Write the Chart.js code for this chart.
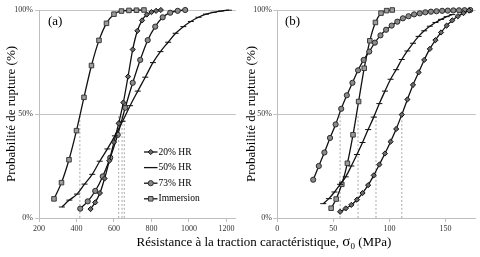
<!DOCTYPE html>
<html>
<head>
<meta charset="utf-8">
<script src="https://cdn.jsdelivr.net/npm/chart.js@4.4.1/dist/chart.umd.min.js"></script>
<style>
  html, body { margin:0; padding:0; background:#fff; }
  body { width:480px; height:257px; position:relative; overflow:hidden; }
  .panel { position:absolute; top:0; width:240px; height:257px; }
  #xt { position:absolute; left:24px; width:480px; top:234px; text-align:center;
        font-family:'Liberation Serif','Times New Roman',serif; font-size:13px; line-height:15px; color:#000; white-space:nowrap; }
  #xt .sig { font-size:15px; }
  #xt sub { font-size:9px; line-height:0; vertical-align:-3px; }
</style>
</head>
<body>
<div class="panel" style="left:0"><canvas id="ca"></canvas></div>
<div class="panel" style="left:240px"><canvas id="cb"></canvas></div>
<div id="xt">Résistance à la traction caractéristique, <span class="sig">σ</span><sub>0</sub> (MPa)</div>
<script>
// ---------- DATA : panel (a) ----------
const seriesLabels = ['20% HR', '50% HR', '73% HR', 'Immersion'];

const a20x = [475,500,525,550,575,600,625,650,675,700,725,750,775,800,825,850];
const a20y = [4.3,7.5,12,19,27.5,36.5,45.5,55.5,68,81,90,95,97.8,99,99.6,100];

const a50x = [322,362,403,443,484,524,565,605,646,686,727,767,808,848,889,929,970,1010,1051,1091,1132,1172,1213];
const a50y = [5.3,8.6,11.5,16.3,21,27.3,33.2,39.5,46.5,54,61,67.7,74.7,80,84.5,88.8,92,94.5,96.5,98,98.9,99.5,99.9];

const a73x = [420,460,500,540,580,620,660,700,740,780,820,860,900,940,980];
const a73y = [4.5,8,13,20,29,40,53,65,76,85.5,92,96.5,98.7,99.6,100];

const aImmx = [280,320,360,400,440,480,520,560,600,640,680,720,760];
const aImmy = [9.2,17,28,42,58,73.3,85.4,93.6,98,99.5,99.8,99.9,100];

const aMedians = [418, 625, 643, 655];
const aTicks = [200, 400, 600, 800, 1000, 1200];

// ---------- DATA : panel (b) ----------
const b20x = [56,61,66,71,76,81,86,91,96,101,106,111,116,121,126,131,136,141,146,151,156,161,166,171];
const b20y = [3,4.6,6.3,8.8,12,15.8,20.5,25.7,31,36.7,42.8,49.7,57,64,70,76,81.3,85.5,89.2,92.5,95,97,98.5,99.7];

const b50x = [41,46,51,56,61,66,71,76,81,86,91,96,101,106,111,116,121,126,131,136,141,146,151,156];
const b50y = [6.9,9.3,12.5,16.2,19.8,25,30.5,36.3,42.5,48.5,55,61,66.7,71.3,76.2,80.3,84,87.3,90,92.2,94,95.5,96.8,97.8];

const b73x = [32,37,42,47,52,57,62,67,72,77,82,87,92,97,102,107,112,117,122,127,132,137,142,147,152,157,162,167,172];
const b73y = [18.4,25,31.5,38.5,45,52.5,59,65,71,76,80,84.3,87.8,90.5,92.5,94.4,96,97,97.9,98.4,98.9,99.2,99.4,99.6,99.7,99.8,99.85,99.9,100];

const bImmx = [48,52.5,57.5,62.5,67.5,72.5,77.5,82.5,87.5,92.5,97.5,102.5];
const bImmy = [4.7,9.1,16.2,26.3,40,56,72,85.2,94,98.5,99.7,100];

const bMedians = [56, 72, 88, 111];
const bTicks = [0, 50, 100, 150];

const yTicks = [0, 50, 100];

// ---------- helpers ----------
const FONT = "'Liberation Serif','Times New Roman',serif";
Chart.defaults.font.family = FONT;

const markerStyles = {
  '20% HR':    { ps:'rectRot', r:2.6, bg:'#6a6a6a', bc:'#111' },
  '50% HR':    { ps:'line',    r:3.0, bg:'#111',    bc:'#111' },
  '73% HR':    { ps:'circle',  r:2.6, bg:'#8a8a8a', bc:'#2a2a2a' },
  'Immersion': { ps:'rect',    r:3.2, bg:'#9c9c9c', bc:'#3a3a3a' }
};

function pts(xs, ys) { return xs.map((x, i) => ({ x: x, y: ys[i] })); }

function curve(label, xs, ys) {
  const s = markerStyles[label];
  return {
    label: label, data: pts(xs, ys),
    borderColor:'#111', borderWidth:1.3, fill:false,
    cubicInterpolationMode:'monotone',
    pointStyle:s.ps, pointRadius:s.r, pointHoverRadius:s.r,
    pointBackgroundColor:s.bg, pointBorderColor:s.bc, pointBorderWidth:1,
    clip:false
  };
}
function guides(vals) {
  return vals.map(v => ({
    label:'', data:[{x:v, y:0}, {x:v, y:50}],
    borderColor:'#a8a8a8', borderWidth:1, borderDash:[2,2],
    pointRadius:0, fill:false, clip:false
  }));
}

function drawMarker(ctx, s, x, y) {
  ctx.save();
  ctx.fillStyle = s.bg; ctx.strokeStyle = s.bc; ctx.lineWidth = 1;
  if (Chart.helpers && Chart.helpers.drawPoint) {
    Chart.helpers.drawPoint(ctx, { pointStyle:s.ps, rotation:0, radius:s.r, borderWidth:1 }, x, y);
  }
  ctx.restore();
}

const panelLabel = (txt, x, y) => ({
  id:'panelLabel',
  afterDraw(chart) {
    const ctx = chart.ctx;
    ctx.save();
    ctx.font = '13px ' + FONT; ctx.fillStyle = '#000';
    ctx.textBaseline = 'middle'; ctx.textAlign = 'left';
    ctx.fillText(txt, x, y);
    ctx.restore();
  }
});

const legendPlugin = {
  id:'customLegend',
  afterDraw(chart) {
    const ctx = chart.ctx;
    const x0 = 144, x1 = 157.5, tx = 158.5;
    const y0 = 152, step = 15.6;
    ctx.save();
    seriesLabels.forEach((lab, i) => {
      const y = y0 + i * step;
      ctx.strokeStyle = '#111'; ctx.lineWidth = 1.3; ctx.setLineDash([]);
      ctx.beginPath(); ctx.moveTo(x0, y); ctx.lineTo(x1, y); ctx.stroke();
      if (lab !== '50% HR') drawMarker(ctx, markerStyles[lab], (x0 + x1) / 2, y);
      ctx.font = '9.5px ' + FONT; ctx.fillStyle = '#000';
      ctx.textBaseline = 'middle'; ctx.textAlign = 'left';
      ctx.fillText(lab, tx, y);
    });
    ctx.restore();
  }
};

function makeScales(xmin, xmax, xticks, yw, tickPad) {
  return {
    x: {
      type:'linear', min:xmin, max:xmax,
      afterBuildTicks(s) { s.ticks = xticks.map(v => ({ value:v })); },
      ticks:{ font:{ size:8 }, color:'#333', padding:2, maxRotation:0, autoSkip:false, callback:v => String(v) },
      grid:{ display:true, drawOnChartArea:false, drawTicks:true, tickLength:4, color:'#bfbfbf' },
      border:{ display:true, color:'#bfbfbf' },
      afterFit(s) { s.height = 39; }
    },
    y: {
      type:'linear', min:0, max:100,
      afterBuildTicks(s) { s.ticks = yTicks.map(v => ({ value:v })); },
      ticks:{ font:{ size:8 }, color:'#333', padding:tickPad, callback:v => v + '%' },
      grid:{ color:'#c4c4c4', tickLength:4 },
      border:{ display:true, color:'#bfbfbf' },
      title:{ display:true, text:'Probabilité de rupture (%)', color:'#000', font:{ size:13 }, padding:{ top:4, bottom:0 } },
      afterFit(s) { s.width = yw; }
    }
  };
}

const common = {
  responsive:true, maintainAspectRatio:false, animation:false, devicePixelRatio:1,
  plugins:{ legend:{ display:false }, tooltip:{ enabled:false } },
  elements:{ line:{ tension:0.4 } }
};

new Chart(document.getElementById('ca'), {
  type:'line',
  data:{ datasets:[
    curve('20% HR', a20x, a20y),
    curve('50% HR', a50x, a50y),
    curve('73% HR', a73x, a73y),
    curve('Immersion', aImmx, aImmy),
    ...guides(aMedians)
  ]},
  options:Object.assign({}, common, {
    layout:{ padding:{ top:10, right:3, left:0, bottom:0 } },
    scales:makeScales(200, 1250, aTicks, 39, 2)
  }),
  plugins:[panelLabel('(a)', 48, 22), legendPlugin]
});

new Chart(document.getElementById('cb'), {
  type:'line',
  data:{ datasets:[
    curve('20% HR', b20x, b20y),
    curve('50% HR', b50x, b50y),
    curve('73% HR', b73x, b73y),
    curve('Immersion', bImmx, bImmy),
    ...guides(bMedians)
  ]},
  options:Object.assign({}, common, {
    layout:{ padding:{ top:10, right:2, left:0, bottom:0 } },
    scales:makeScales(0, 177, bTicks, 37.3, 1.5)
  }),
  plugins:[panelLabel('(b)', 45, 22)]
});
</script>
</body>
</html>
